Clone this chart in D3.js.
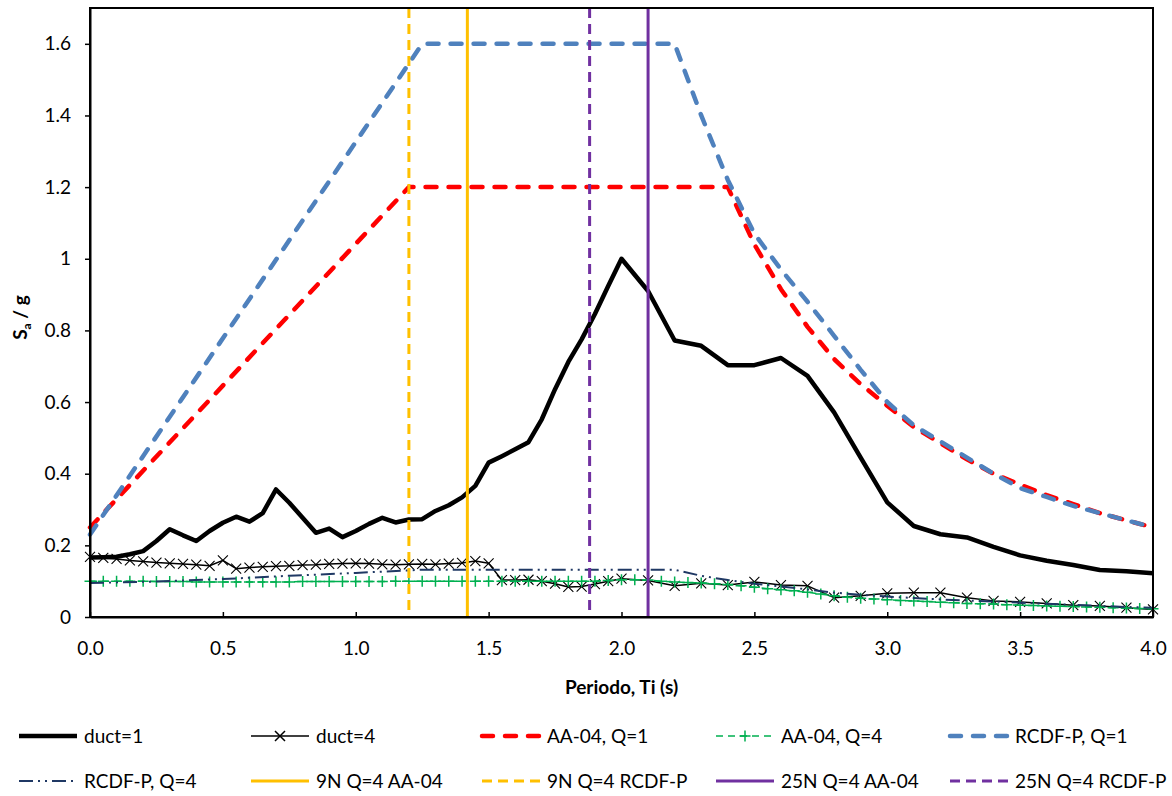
<!DOCTYPE html>
<html>
<head>
<meta charset="utf-8">
<script src="https://cdn.jsdelivr.net/npm/d3@7"></script>
<style>
  html, body { margin: 0; padding: 0; background: #fff; }
  svg { display: block; font-family: Lato, "Open Sans", sans-serif; }
</style>
</head>
<body>
<svg id="chart" width="1172" height="796"></svg>
<script>
// ---------------- DATA ----------------
const seriesNames = ["duct=1", "duct=4", "AA-04, Q=1", "AA-04, Q=4", "RCDF-P, Q=1",
  "RCDF-P, Q=4", "9N Q=4 AA-04", "9N Q=4 RCDF-P", "25N Q=4 AA-04", "25N Q=4 RCDF-P"];

// response spectra periods (0.05 s to 2.0 s, then 0.1 s)
const periodsResp = [0, 0.05, 0.1, 0.15, 0.2, 0.25, 0.3, 0.35, 0.4, 0.45, 0.5, 0.55, 0.6, 0.65, 0.7,
  0.75, 0.8, 0.85, 0.9, 0.95, 1.0, 1.05, 1.1, 1.15, 1.2, 1.25, 1.3, 1.35, 1.4, 1.45, 1.5, 1.55, 1.6,
  1.65, 1.7, 1.75, 1.8, 1.85, 1.9, 1.95, 2.0, 2.1, 2.2, 2.3, 2.4, 2.5, 2.6, 2.7, 2.8, 2.9, 3.0,
  3.1, 3.2, 3.3, 3.4, 3.5, 3.6, 3.7, 3.8, 3.9, 4.0];

const duct1 = [0.166, 0.167, 0.168, 0.175, 0.184, 0.212, 0.245, 0.228, 0.212, 0.240, 0.263, 0.280,
  0.266, 0.290, 0.356, 0.319, 0.277, 0.235, 0.247, 0.223, 0.240, 0.260, 0.277, 0.264, 0.272, 0.273,
  0.296, 0.312, 0.334, 0.366, 0.431, 0.449, 0.468, 0.488, 0.552, 0.636, 0.712, 0.775, 0.846, 0.924,
  1.000, 0.910, 0.772, 0.757, 0.703, 0.703, 0.723, 0.673, 0.571, 0.445, 0.320, 0.254, 0.231, 0.222,
  0.196, 0.172, 0.157, 0.145, 0.131, 0.128, 0.122];

const duct4 = [0.168, 0.165, 0.162, 0.158, 0.155, 0.152, 0.150, 0.148, 0.146, 0.143, 0.158, 0.135,
  0.138, 0.140, 0.142, 0.143, 0.145, 0.146, 0.148, 0.149, 0.150, 0.149, 0.147, 0.146, 0.147, 0.148,
  0.147, 0.149, 0.151, 0.156, 0.150, 0.103, 0.103, 0.104, 0.100, 0.093, 0.084, 0.085, 0.092, 0.100,
  0.107, 0.102, 0.087, 0.094, 0.089, 0.098, 0.089, 0.087, 0.054, 0.059, 0.066, 0.068, 0.068, 0.054,
  0.045, 0.042, 0.038, 0.033, 0.031, 0.026, 0.021];

// AA-04, Q=1
const aaQ1Periods = [0, 1.2, 2.4, 2.5, 2.6, 2.7, 2.8, 2.9, 3.0, 3.1, 3.2, 3.3, 3.4, 3.5, 3.6, 3.7, 3.8, 3.9, 4.0];
const aaQ1 = [0.25, 1.2, 1.2, 1.04, 0.915, 0.81, 0.72, 0.65, 0.59, 0.53, 0.485, 0.44, 0.40, 0.37, 0.34, 0.315, 0.29, 0.27, 0.25];

// AA-04, Q=4 (0.05 s step)
const aaQ4Periods = [0, 0.05, 0.1, 0.15, 0.2, 0.25, 0.3, 0.35, 0.4, 0.45, 0.5, 0.55, 0.6, 0.65, 0.7,
  0.75, 0.8, 0.85, 0.9, 0.95, 1.0, 1.05, 1.1, 1.15, 1.2, 1.25, 1.3, 1.35, 1.4, 1.45, 1.5, 1.55, 1.6,
  1.65, 1.7, 1.75, 1.8, 1.85, 1.9, 1.95, 2.0, 2.05, 2.1, 2.15, 2.2, 2.25, 2.3, 2.35, 2.4, 2.45, 2.5,
  2.55, 2.6, 2.65, 2.7, 2.75, 2.8, 2.85, 2.9, 2.95, 3.0, 3.05, 3.1, 3.15, 3.2, 3.25, 3.3, 3.35, 3.4,
  3.45, 3.5, 3.55, 3.6, 3.65, 3.7, 3.75, 3.8, 3.85, 3.9, 3.95, 4.0];
const aaQ4 = [0.100, 0.100, 0.100, 0.100, 0.100, 0.099, 0.099, 0.099, 0.098, 0.098, 0.098, 0.098,
  0.098, 0.098, 0.098, 0.098, 0.099, 0.099, 0.099, 0.099, 0.099, 0.099, 0.099, 0.100, 0.100, 0.100,
  0.100, 0.100, 0.100, 0.100, 0.100, 0.100, 0.100, 0.100, 0.100, 0.100, 0.100, 0.100, 0.100, 0.102,
  0.104, 0.104, 0.103, 0.100, 0.098, 0.096, 0.095, 0.093, 0.091, 0.087, 0.083, 0.079, 0.076, 0.073,
  0.069, 0.064, 0.059, 0.055, 0.052, 0.050, 0.048, 0.046, 0.045, 0.043, 0.041, 0.040, 0.038, 0.037,
  0.036, 0.034, 0.033, 0.032, 0.031, 0.030, 0.029, 0.028, 0.027, 0.026, 0.025, 0.024, 0.023];

// RCDF-P, Q=1
const rcQ1Periods = [0, 1.25, 2.2, 2.3, 2.4, 2.5, 2.6, 2.7, 2.8, 2.9, 3.0, 3.1, 3.2, 3.3, 3.4, 3.5, 3.6, 3.7, 3.8, 3.9, 4.0];
const rcQ1 = [0.23, 1.6, 1.6, 1.40, 1.22, 1.07, 0.97, 0.88, 0.785, 0.69, 0.60, 0.535, 0.49, 0.445, 0.40, 0.36, 0.335, 0.31, 0.29, 0.27, 0.25];

// RCDF-P, Q=4
const rcQ4Periods = [0, 0.25, 0.5, 0.75, 1.0, 1.25, 2.2, 2.3, 2.4, 2.5, 2.6, 2.7, 2.8, 2.9, 3.0, 3.1, 3.2, 3.3, 3.4, 3.5, 3.6, 3.7, 3.8, 3.9, 4.0];
const rcQ4 = [0.095, 0.099, 0.106, 0.115, 0.123, 0.132, 0.132, 0.115, 0.103, 0.093, 0.085, 0.077, 0.068, 0.062, 0.057, 0.053, 0.049, 0.046, 0.043, 0.040, 0.037, 0.034, 0.031, 0.028, 0.026];

// Vertical period markers (9N AA-04, 9N RCDF-P, 25N AA-04, 25N RCDF-P)
const verticalPeriods = [1.42, 1.20, 2.10, 1.88];

const xTicks = [0, 0.5, 1.0, 1.5, 2.0, 2.5, 3.0, 3.5, 4.0];
const yTicks = [0, 0.2, 0.4, 0.6, 0.8, 1.0, 1.2, 1.4, 1.6];
const xTitle = "Periodo, Ti (s)";

// ---------------- STYLES ----------------
const styles = {
  "duct=1":         { color: "#000000", width: 4.5, dash: null },
  "duct=4":         { color: "#000000", width: 1.5, dash: null, marker: "x" },
  "AA-04, Q=1":     { color: "#FF0000", width: 4.5, dash: "11 12", cap: "round" },
  "AA-04, Q=4":     { color: "#00B050", width: 1.5, dash: "7 5", marker: "+" },
  "RCDF-P, Q=1":    { color: "#4F81BD", width: 4.5, dash: "11 12", cap: "round" },
  "RCDF-P, Q=4":    { color: "#1F3864", width: 2, dash: "14 5 2 5 2 5" },
  "9N Q=4 AA-04":   { color: "#FFC000", width: 3, dash: null },
  "9N Q=4 RCDF-P":  { color: "#FFC000", width: 3, dash: "10 6" },
  "25N Q=4 AA-04":  { color: "#7030A0", width: 3, dash: null },
  "25N Q=4 RCDF-P": { color: "#7030A0", width: 3, dash: "10 6" }
};

// ---------------- LAYOUT ----------------
const svg = d3.select("#chart");
const plot = { left: 90, right: 1153, top: 8, bottom: 617 };
const x = d3.scaleLinear().domain([0, 4]).range([plot.left, plot.right]);
const y = d3.scaleLinear().domain([0, 1.7]).range([plot.bottom, plot.top]);

const zip = (ts, vs) => ts.map((t, i) => ({ t, v: vs[i] }));
const lineData = {
  "duct=1": zip(periodsResp, duct1),
  "duct=4": zip(periodsResp, duct4),
  "AA-04, Q=1": zip(aaQ1Periods, aaQ1),
  "AA-04, Q=4": zip(aaQ4Periods, aaQ4),
  "RCDF-P, Q=1": zip(rcQ1Periods, rcQ1),
  "RCDF-P, Q=4": zip(rcQ4Periods, rcQ4)
};
const vNames = ["9N Q=4 AA-04", "9N Q=4 RCDF-P", "25N Q=4 AA-04", "25N Q=4 RCDF-P"];

const line = d3.line().x(d => x(d.t)).y(d => y(d.v));

const gPlot = svg.append("g");
const clip = svg.append("clipPath").attr("id", "clip").append("rect")
  .attr("x", plot.left).attr("y", plot.top)
  .attr("width", plot.right - plot.left).attr("height", plot.bottom - plot.top + 2);

function markerPath(type, s) {
  if (type === "x") return `M${-s},${-s}L${s},${s}M${-s},${s}L${s},${-s}`;
  return `M${-s},0L${s},0M0,${-s}L0,${s}`;
}

Object.keys(lineData).forEach(name => {
  const st = styles[name];
  const g = gPlot.append("g");
  g.append("path")
    .datum(lineData[name])
    .attr("d", line)
    .attr("fill", "none")
    .attr("stroke", st.color)
    .attr("stroke-width", st.width)
    .attr("stroke-linejoin", "round")
    .attr("stroke-linecap", st.cap || "butt")
    .attr("stroke-dasharray", st.dash);
  if (st.marker) {
    g.selectAll("path.mk").data(lineData[name]).enter().append("path")
      .attr("class", "mk")
      .attr("transform", d => `translate(${x(d.t)},${y(d.v)})`)
      .attr("d", markerPath(st.marker, st.marker === "x" ? 5 : 5.5))
      .attr("stroke", st.color)
      .attr("stroke-width", st.marker === "x" ? 1.1 : 1.5)
      .attr("fill", "none");
  }
});

// vertical lines
vNames.forEach((name, i) => {
  const st = styles[name];
  gPlot.append("line")
    .attr("x1", x(verticalPeriods[i])).attr("x2", x(verticalPeriods[i]))
    .attr("y1", y(1.7)).attr("y2", y(0))
    .attr("stroke", st.color)
    .attr("stroke-width", st.width)
    .attr("stroke-dasharray", st.dash);
});

// frame
svg.append("rect")
  .attr("x", plot.left).attr("y", plot.top)
  .attr("width", plot.right - plot.left).attr("height", plot.bottom - plot.top)
  .attr("fill", "none").attr("stroke", "#000").attr("stroke-width", 2);

// axes
const fontSize = 19;
const yAxis = d3.axisLeft(y).tickValues(yTicks).tickFormat(d3.format("~g"))
  .tickSize(5).tickSizeOuter(0).tickPadding(14);
const gy = svg.append("g").attr("transform", `translate(${plot.left},0)`).call(yAxis);
const xAxis = d3.axisBottom(x).tickValues(xTicks).tickFormat(d3.format(".1f"))
  .tickSize(-5).tickSizeOuter(0).tickPadding(25);
const gx = svg.append("g").attr("transform", `translate(0,${plot.bottom})`).call(xAxis);
[gx, gy].forEach(g => {
  g.select(".domain").attr("stroke", "#000").attr("stroke-width", 2);
  g.selectAll(".tick line").attr("stroke", "#000").attr("stroke-width", 1.5);
  g.selectAll(".tick text").attr("fill", "#000").style("font-size", fontSize + "px")
    .style("font-family", "Lato, sans-serif");
});

// axis titles
svg.append("text")
  .attr("x", (plot.left + plot.right) / 2).attr("y", 694)
  .attr("text-anchor", "middle")
  .style("font-size", "19px").style("font-weight", "bold")
  .text(xTitle);

const yt = svg.append("text")
  .attr("transform", `translate(27,${(plot.top + plot.bottom) / 2 + 5}) rotate(-90)`)
  .attr("text-anchor", "middle")
  .style("font-size", "19px").style("font-weight", "bold");
yt.append("tspan").text("S");
yt.append("tspan").attr("dy", 4).style("font-size", "12px").text("a");
yt.append("tspan").attr("dy", -4).text(" / g");

// legend
const legCols = [19, 251, 482, 716, 950];
const legRows = [736, 781];
const sampleLen = 58;
seriesNames.forEach((name, i) => {
  const st = styles[name];
  const lx = legCols[i % 5], ly = legRows[Math.floor(i / 5)];
  const g = svg.append("g");
  g.append("line")
    .attr("x1", lx).attr("x2", lx + sampleLen).attr("y1", ly).attr("y2", ly)
    .attr("stroke", st.color).attr("stroke-width", st.width)
    .attr("stroke-linecap", st.cap || "butt")
    .attr("stroke-dasharray", st.dash);
  if (st.marker) {
    g.append("path")
      .attr("transform", `translate(${lx + sampleLen / 2},${ly})`)
      .attr("d", markerPath(st.marker, st.marker === "x" ? 5 : 5.5))
      .attr("stroke", st.color).attr("stroke-width", 1.5).attr("fill", "none");
  }
  g.append("text")
    .attr("x", lx + sampleLen + 7).attr("y", ly)
    .attr("dy", "0.35em")
    .style("font-size", "19px")
    .text(name);
});
</script>
</body>
</html>
